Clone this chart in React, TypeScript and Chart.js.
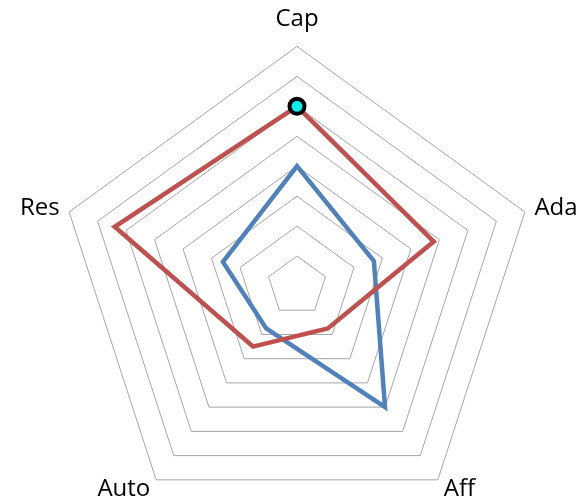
import React, { useEffect, useRef } from "react";
import { Chart, registerables } from "chart.js";

Chart.register(...registerables);

const categories = ["Cap", "Ada", "Aff", "Auto", "Res"];
const seriesRed = [6, 4.8, 1.75, 2.5, 6.4];
const seriesBlue = [4, 2.7, 5, 1.75, 2.6];
const scaleMax = 8;

export default function App() {
  const ref = useRef<HTMLCanvasElement | null>(null);
  useEffect(() => {
    if (!ref.current) return;
    const chart = new Chart(ref.current, {
      type: "radar",
      data: {
        labels: categories,
        datasets: [
          {
            label: "Red",
            data: seriesRed,
            borderColor: "#C0504D",
            backgroundColor: "rgba(0,0,0,0)",
            borderWidth: 4.5,
            fill: false,
            pointRadius: [7.5, 0, 0, 0, 0],
            pointHoverRadius: 0,
            pointBackgroundColor: "#00F0F0",
            pointBorderColor: "#000000",
            pointBorderWidth: 4,
          },
          {
            label: "Blue",
            data: seriesBlue,
            borderColor: "#4F81BD",
            backgroundColor: "rgba(0,0,0,0)",
            borderWidth: 4.5,
            fill: false,
            pointRadius: 0,
          },
        ],
      },
      options: {
        animation: false,
        responsive: true,
        maintainAspectRatio: false,
        layout: { padding: { top: 4, bottom: 0, left: 0, right: 0 } },
        plugins: { legend: { display: false }, tooltip: { enabled: false } },
        elements: { line: { tension: 0, borderJoinStyle: "miter" } },
        scales: {
          r: {
            min: 0,
            max: scaleMax,
            ticks: { display: false, stepSize: 1 },
            angleLines: { display: false },
            grid: { color: "#A6A6A6", lineWidth: 1 },
            pointLabels: {
              color: "#000000",
              padding: (ctx: any) => (ctx.index === 0 ? 26 : 10),
              font: { family: "'Open Sans', sans-serif", size: 24, lineHeight: 0.1 },
            },
          },
        },
      },
    });
    return () => chart.destroy();
  }, []);
  return (
    <div style={{ position: "fixed", left: -25, top: 0, width: 645, height: 540, background: "#fff" }}>
      <canvas ref={ref} />
    </div>
  );
}
